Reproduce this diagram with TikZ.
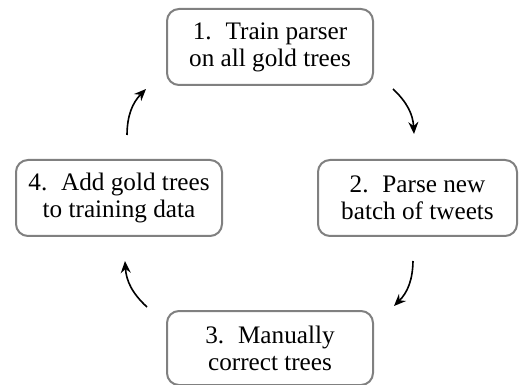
\documentclass[tikz,border=0pt]{standalone}
\usepackage{fontspec}
\setmainfont{Liberation Serif}
\newfontfamily\tnrfont{Liberation Serif}
\usetikzlibrary{arrows.meta,calc}
\newcommand{\nsp}{\hskip 0.55em\relax}
\begin{document}
\begin{tikzpicture}[x=0.5pt,y=-0.5pt,
  stepbox/.style={draw=black!50, line width=1pt, rounded corners=6pt,
    align=center, inner sep=0pt, font=\tnrfont\fontsize{12.6pt}{13.6pt}\selectfont},
  cyc/.style={-{Stealth[length=6pt,width=5pt,inset=2pt]}, line width=0.8pt, bend left=22}]
\useasboundingbox (0,0) rectangle (520,385);
\node[stepbox, minimum width=103pt, minimum height=38pt] (n1) at (270,47) {1.\nsp Train parser\\on all gold trees};
\node[stepbox, minimum width=99.5pt, minimum height=38pt] (n2) at (417.5,198) {2.\nsp Parse new\\batch of tweets};
\node[stepbox, minimum width=103pt, minimum height=37pt] (n3) at (270,348) {3.\nsp Manually\\correct trees};
\node[stepbox, minimum width=103pt, minimum height=38pt] (n4) at (119,198) {4.\nsp Add gold trees\\to training data};
\coordinate (a1s) at ($(n1.south east)+(19,3)$);
\coordinate (a1e) at ($(n2.north)+(-3.5,-25)$);
\coordinate (a2s) at ($(n2.south)+(-4.5,24)$);
\coordinate (a2e) at ($(n3.north east)+(20,-4)$);
\coordinate (a3s) at ($(n3.north west)+(-19,-3)$);
\coordinate (a3e) at ($(n4.south)+(6,24)$);
\coordinate (a4s) at ($(n4.north)+(8,-24)$);
\coordinate (a4e) at ($(n1.south west)+(-20,3)$);
\draw[cyc] (a1s) to (a1e);
\draw[cyc] (a2s) to (a2e);
\draw[cyc] (a3s) to (a3e);
\draw[cyc] (a4s) to (a4e);
\end{tikzpicture}
\end{document}
